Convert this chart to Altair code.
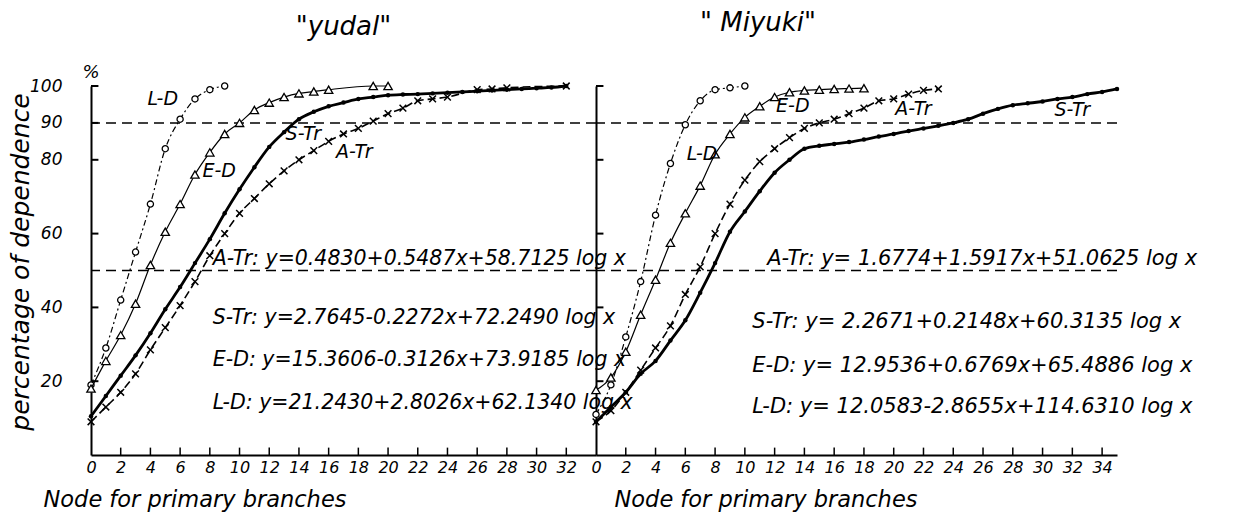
import altair as alt
import pandas as pd

# ---------------- "yudal" panel data ----------------
Y_LD_X = [0, 1, 2, 3, 4, 5, 6, 7, 8, 9]
Y_LD_Y = [19, 29, 42, 55, 68, 83, 91, 96.5, 99, 100]
Y_ED_X = [0, 1, 2, 3, 4, 5, 6, 7, 8, 9, 10, 11, 12, 13, 14, 15, 16, 19, 20]
Y_ED_Y = [18, 25.5, 32.5, 41, 51.5, 60.5, 68, 76, 82, 87, 90, 93.5, 95.5, 97, 98, 98.5, 99, 100, 100]
Y_ST_X = list(range(0, 33))
Y_ST_Y = [10.5, 16, 21.5, 27, 33, 39.5, 45.5, 52, 58.5, 65.5, 72, 78, 83.5, 87.5, 91, 93,
          94.5, 95.5, 96.5, 97, 97.5, 97.7, 97.8, 98, 98.2, 98.4, 98.6, 98.8, 99, 99.2, 99.4, 99.6, 100]
Y_AT_X = list(range(0, 25)) + [26, 27, 28, 32]
Y_AT_Y = [9, 13, 17, 22, 28.5, 34.5, 40.5, 47, 54, 60, 65.5, 69.5, 73.5, 77, 80, 82.5, 85, 87,
          88.5, 90.5, 92.5, 94, 96, 96.5, 97, 99, 99.2, 99.5, 100]

# ---------------- "Miyuki" panel data ----------------
M_LD_X = [0, 1, 2, 3, 4, 5, 6, 7, 8, 9, 10]
M_LD_Y = [11, 19, 32, 47, 65, 79, 89.5, 96, 99, 99.5, 100]
M_ED_X = list(range(0, 19))
M_ED_Y = [17.6, 21, 28, 38, 47.5, 57.5, 65.5, 73, 81.5, 87, 91.5, 94.5, 97, 98.3, 98.8, 99, 99.2, 99.3, 99.4]
M_ST_X = list(range(0, 36))
M_ST_Y = [9, 13, 17, 22, 25.5, 31, 36.5, 44, 52, 60.5, 66, 71.5, 76.5, 80, 83, 83.8, 84.3, 84.8,
          85.5, 86.3, 87, 87.8, 88.5, 89.2, 90, 91, 92.5, 93.8, 94.8, 95.3, 95.8, 96.5, 97, 97.8, 98.4, 99.2]
M_AT_X = list(range(0, 24))
M_AT_Y = [9, 12, 17, 23, 29, 35, 43.5, 51, 60, 68, 74.5, 79.5, 83, 86, 88.5, 90, 91, 92.5, 94, 96,
          96.5, 97.8, 98.8, 99.2]

REF_LEVELS = [50, 90]
Y_TICKS_LEFT = [20, 40, 60, 80, 90, 100]
Y_TICKS_RIGHT = [20, 40, 60, 80, 100]
X_TICKS_LEFT = list(range(0, 33, 2))
X_TICKS_RIGHT = list(range(0, 35, 2))

SERIES = ["L-D", "E-D", "S-Tr", "A-Tr"]

Y_EQS = ["A-Tr: y=0.4830+0.5487x+58.7125 log x",
         "S-Tr: y=2.7645-0.2272x+72.2490 log x",
         "E-D: y=15.3606-0.3126x+73.9185 log x",
         "L-D: y=21.2430+2.8026x+62.1340 log x"]
M_EQS = ["A-Tr: y= 1.6774+1.5917x+51.0625 log x",
         "S-Tr: y= 2.2671+0.2148x+60.3135 log x",
         "E-D: y= 12.9536+0.6769x+65.4886 log x",
         "L-D: y= 12.0583-2.8655x+114.6310 log x"]

# annotation anchor positions (data units)
Y_EQ_POS_X = [8.2, 8.2, 8.2, 8.2]
Y_EQ_POS_Y = [53, 37, 25.8, 14.2]
M_EQ_POS_X = [11.5, 10.5, 10.5, 10.5]
M_EQ_POS_Y = [53, 36, 24.2, 12.9]
Y_LAB_X = [3.8, 7.5, 13.1, 16.5]
Y_LAB_Y = [96.5, 77, 87, 82]
M_LAB_X = [6.1, 12.1, 30.8, 20.1]
M_LAB_Y = [81.5, 94.6, 93.5, 93.8]

FONT = "DejaVu Sans"
XPATH = "M-1,-1L1,1M-1,1L1,-1"


def panel(ld, ed, st, at, xmax, width, xticks, yticks, title, title_anchor, title_dx, title_off,
          show_y, eqs, eq_x, eq_y, eq_size, lab_x, lab_y, x_title_x):
    H = 369
    xaxis = alt.Axis(values=xticks, ticks=False, grid=False, domainColor="black", domainWidth=2,
                     labelFontSize=16, labelFontStyle="italic", labelColor="black", labelPadding=4,
                     labelFlush=False, title="Node for primary branches", titleFontSize=22.5,
                     titleFontStyle="italic", titleFontWeight="normal", titleColor="black",
                     titleX=x_title_x, titleY=44, titleAlign="left", titleBaseline="middle")
    if show_y:
        yaxis = alt.Axis(values=yticks, ticks=False, grid=False,
                         domainColor="black", domainWidth=2,
                         labelFontSize=17, labelFontStyle="italic", labelColor="black", labelPadding=29,
                         labelAlign="right", labelBaseline="middle",
                         title="percentage of dependence", titleFontSize=25, titleFontStyle="italic",
                         titleFontWeight="normal", titleColor="black", titleX=-63, titleY=H / 2 - 9,
                         titleBaseline="alphabetic")
    else:
        yaxis = alt.Axis(values=yticks, ticks=False, grid=False, labels=False, domainColor="black",
                         domainWidth=2, title=None)
    X = alt.X("x:Q", scale=alt.Scale(domain=[0, xmax], nice=False, zero=False), axis=xaxis)
    Y = alt.Y("y:Q", scale=alt.Scale(domain=[0, 100], nice=False, zero=False), axis=yaxis)

    layers = []
    # reference dashed lines
    layers.append(alt.Chart(pd.DataFrame({"y": REF_LEVELS})).mark_rule(
        color="black", strokeWidth=1.5, strokeDash=[10, 6]).encode(y=Y))
    # inward ticks
    layers.append(alt.Chart(pd.DataFrame({"y": yticks, "x": [0] * len(yticks), "x2": [0.5] * len(yticks)}))
                  .mark_rule(color="black", strokeWidth=2).encode(x=X, x2="x2:Q", y=Y))
    xt = [v for v in xticks if v > 0]
    layers.append(alt.Chart(pd.DataFrame({"x": xt, "y": [0] * len(xt), "y2": [2] * len(xt)}))
                  .mark_rule(color="black", strokeWidth=1.5).encode(x=X, y=Y, y2="y2:Q"))

    def df(xy):
        return pd.DataFrame({"x": xy[0], "y": xy[1]})

    # L-D
    layers.append(alt.Chart(df(ld)).mark_line(color="black", strokeWidth=1.2, strokeDash=[6, 3, 2, 3],
                                              interpolate="monotone").encode(x=X, y=Y))
    layers.append(alt.Chart(df(ld)).mark_point(shape="circle", size=38, filled=False, fill="white",
                                               fillOpacity=1, color="black", strokeWidth=1.3,
                                               opacity=1).encode(x=X, y=Y))
    # E-D
    layers.append(alt.Chart(df(ed)).mark_line(color="black", strokeWidth=1.2,
                                              interpolate="monotone").encode(x=X, y=Y))
    layers.append(alt.Chart(df(ed)).mark_point(shape="triangle-up", size=70, filled=False, fill="white",
                                               fillOpacity=1, color="black", strokeWidth=1.3,
                                               opacity=1).encode(x=X, y=Y))
    # A-Tr
    layers.append(alt.Chart(df(at)).mark_line(color="black", strokeWidth=1.6, strokeDash=[8, 4],
                                              interpolate="monotone").encode(x=X, y=Y))
    layers.append(alt.Chart(df(at)).mark_point(shape=XPATH, size=45, filled=False, color="black",
                                               strokeWidth=1.5, opacity=1).encode(x=X, y=Y))
    # S-Tr
    layers.append(alt.Chart(df(st)).mark_line(color="black", strokeWidth=2.8,
                                              interpolate="monotone").encode(x=X, y=Y))
    layers.append(alt.Chart(df(st)).mark_point(shape="circle", size=20, filled=True, color="black",
                                               opacity=1).encode(x=X, y=Y))
    # series labels
    layers.append(alt.Chart(pd.DataFrame({"x": lab_x, "y": lab_y, "t": SERIES})).mark_text(
        font=FONT, fontSize=19, fontStyle="italic", align="left", baseline="middle", color="black")
        .encode(x=X, y=Y, text="t:N"))
    # equations
    layers.append(alt.Chart(pd.DataFrame({"x": eq_x, "y": eq_y, "t": eqs})).mark_text(
        font=FONT, fontSize=eq_size, fontStyle="italic", align="left", baseline="middle", color="black")
        .encode(x=X, y=Y, text="t:N"))
    if show_y:
        layers.append(alt.Chart(pd.DataFrame({"t": ["%"]})).mark_text(
            font=FONT, fontSize=18, fontStyle="italic", color="black")
            .encode(x=alt.value(0), y=alt.value(-13), text="t:N"))

    return alt.layer(*layers).properties(
        width=width, height=H,
        title=alt.TitleParams(text=title, fontSize=26, fontStyle="italic", fontWeight="normal",
                              font=FONT, color="black", anchor=title_anchor, frame="group",
                              dx=title_dx, offset=title_off))


left = panel((Y_LD_X, Y_LD_Y), (Y_ED_X, Y_ED_Y), (Y_ST_X, Y_ST_Y), (Y_AT_X, Y_AT_Y),
             34, 505, X_TICKS_LEFT, Y_TICKS_LEFT, '"yudal"', "middle", 0, 24, True,
             Y_EQS, Y_EQ_POS_X, Y_EQ_POS_Y, 20.5, Y_LAB_X, Y_LAB_Y, -48)
right = panel((M_LD_X, M_LD_Y), (M_ED_X, M_ED_Y), (M_ST_X, M_ST_Y), (M_AT_X, M_AT_Y),
              35, 521, X_TICKS_RIGHT, Y_TICKS_RIGHT, '" Miyuki"', "start", 104, 44, False,
              M_EQS, M_EQ_POS_X, M_EQ_POS_Y, 21, M_LAB_X, M_LAB_Y, 18)

chart = alt.hconcat(left, right, spacing=0, bounds="flush").properties(
    padding={"left": 0, "top": 2, "right": 2, "bottom": 2}
).configure(font=FONT, background="white").configure_view(stroke=None)

chart.save("out.html", embed_options={"renderer": "svg", "actions": False})
